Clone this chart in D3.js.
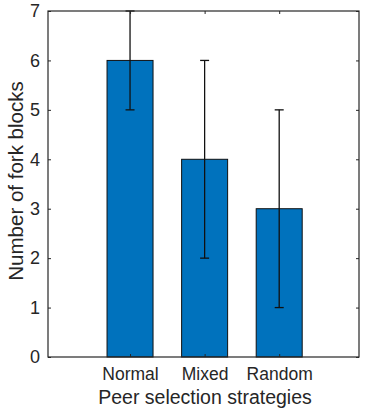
<!DOCTYPE html>
<html>
<head>
<meta charset="utf-8">
<script src="https://cdn.jsdelivr.net/npm/d3@7"></script>
<style>
  body { margin: 0; background: #fff; }
  text { font-family: "Liberation Sans", Arial, sans-serif; fill: #262626; }
</style>
</head>
<body>
<div class="chart"></div>
<script>
const categories = ["Normal", "Mixed", "Random"];
const values = [6, 4, 3];
const errLow = [5, 2, 1];
const errHigh = [7, 6, 5];
const yTicks = [0, 1, 2, 3, 4, 5, 6, 7];

const width = 374;
const height = 416;
const plotLeft = 48, plotRight = 359, plotTop = 11, plotBottom = 357;

const svg = d3.select('.chart')
  .append('svg')
  .attr('width', width)
  .attr('height', height);

const x = d3.scaleLinear().domain([-0.1, 4.07]).range([plotLeft, plotRight]);
const y = d3.scaleLinear().domain([0, 7]).range([plotBottom, plotTop]);
const barW = 46 / (x(2) - x(1));

// bars
svg.selectAll("rect.bar")
  .data(values)
  .enter()
  .append("rect")
  .attr("class", "bar")
  .attr("x", (d, i) => x(i + 1 - barW / 2))
  .attr("y", d => y(d))
  .attr("width", (d, i) => x(i + 1 + barW / 2) - x(i + 1 - barW / 2))
  .attr("height", d => y(0) - y(d))
  .attr("fill", "#0072BD")
  .attr("stroke", "#111")
  .attr("stroke-width", 1);

// error bars
const err = svg.append("g").attr("stroke", "#111").attr("stroke-width", 1.3);
categories.forEach((c, i) => {
  const cx = x(i + 1);
  err.append("line").attr("x1", cx).attr("x2", cx)
    .attr("y1", y(errLow[i])).attr("y2", y(errHigh[i]));
  [errLow[i], errHigh[i]].forEach(v => {
    err.append("line").attr("x1", cx - 4.5).attr("x2", cx + 4.5)
      .attr("y1", y(v)).attr("y2", y(v));
  });
});

// axes box with inward ticks
const axisColor = "#262626";
svg.append("rect")
  .attr("x", plotLeft).attr("y", plotTop)
  .attr("width", plotRight - plotLeft).attr("height", plotBottom - plotTop)
  .attr("fill", "none").attr("stroke", axisColor).attr("stroke-width", 1.2);

const yAxis = d3.axisLeft(y).tickValues(yTicks).tickSize(-3).tickPadding(8)
  .tickFormat(d3.format("d"));
const gy = svg.append("g").attr("transform", `translate(${plotLeft},0)`).call(yAxis);
gy.select(".domain").remove();
gy.selectAll(".tick line").attr("stroke", axisColor);
gy.selectAll(".tick text").attr("font-size", 18).attr("fill", axisColor)
  .style("font-family", "'Liberation Sans', Arial, sans-serif");

const yAxisR = d3.axisRight(y).tickValues(yTicks).tickSize(-3).tickFormat("");
const gyr = svg.append("g").attr("transform", `translate(${plotRight},0)`).call(yAxisR);
gyr.select(".domain").remove();
gyr.selectAll(".tick line").attr("stroke", axisColor);

const xAxis = d3.axisBottom(x).tickValues([1, 2, 3]).tickSize(-3).tickPadding(11)
  .tickFormat((d, i) => categories[i]);
const gx = svg.append("g").attr("transform", `translate(0,${plotBottom})`).call(xAxis);
gx.select(".domain").remove();
gx.selectAll(".tick line").attr("stroke", axisColor);
gx.selectAll(".tick text").attr("font-size", 17.5).attr("fill", axisColor)
  .style("font-family", "'Liberation Sans', Arial, sans-serif");

const xAxisT = d3.axisTop(x).tickValues([1, 2, 3]).tickSize(-3).tickFormat("");
const gxt = svg.append("g").attr("transform", `translate(0,${plotTop})`).call(xAxisT);
gxt.select(".domain").remove();
gxt.selectAll(".tick line").attr("stroke", axisColor);

// labels
svg.append("text")
  .text("Peer selection strategies")
  .attr("x", 205)
  .attr("y", 404)
  .attr("text-anchor", "middle")
  .attr("font-size", 19.5);

svg.append("text")
  .text("Number of fork blocks")
  .attr("transform", `translate(23,181) rotate(-90)`)
  .attr("text-anchor", "middle")
  .attr("font-size", 20.5);
</script>
</body>
</html>
